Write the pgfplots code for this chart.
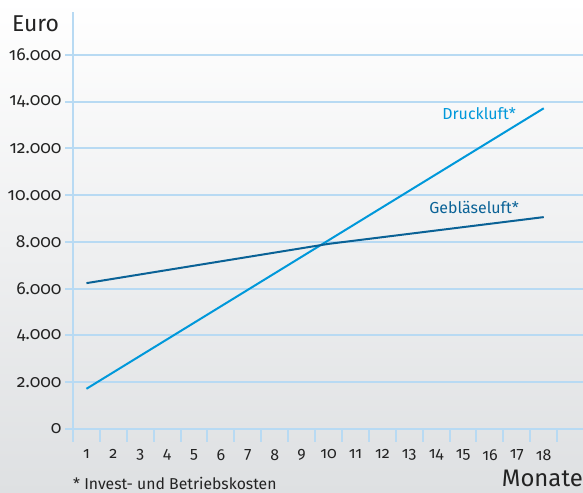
\documentclass[border=0pt]{standalone}
\usepackage{fontspec}
\setmainfont{Fira Sans}[Numbers=OldStyle]
\usepackage{pgfplots}
\pgfplotsset{compat=1.18}
\definecolor{gridBlue}{RGB}{184,218,243}
\definecolor{druckBlue}{RGB}{0,152,218}
\definecolor{geblBlue}{RGB}{10,98,150}
\definecolor{textGray}{RGB}{35,35,35}
\definecolor{bgBottom}{RGB}{222,224,226}

\begin{document}
\begin{tikzpicture}[x=1bp,y=1bp]
\shade[top color=white, bottom color=bgBottom] (0,0) rectangle (583,493);
\path[use as bounding box] (0,0) rectangle (583,493);
\begin{axis}[
    at={(73bp,51bp)}, anchor=south west,
    scale only axis, width=510bp, height=430bp,
    xmin=0.5, xmax=19.46, ymin=-556, ymax=17840,
    axis lines=left, axis line style={-},
    x axis line style={draw=none},
    y axis line style={gridBlue, line width=2bp},
    xtick={1,...,18},
    major tick length=0pt,
    extra x ticks={0.5,1.5,...,18.5},
    extra x tick labels={},
    extra x tick style={major tick length=13bp, tick align=inside,
        tick style={draw=gridBlue, line width=2bp}},
    ytick={0,2000,...,16000},
    extra y ticks={0,2000,...,16000},
    extra y tick labels={},
    extra y tick style={major tick length=8bp, tick align=outside,
        tick style={draw=gridBlue, line width=2bp}},
    scaled y ticks=false,
    ymajorgrids=true,
    major grid style={gridBlue, line width=2bp},
    yticklabel style={font=\fontsize{17.5}{18}\selectfont, text=textGray, xshift=-8bp},
    xticklabel style={font=\fontsize{16}{17}\selectfont, text=textGray, yshift=-4bp},
    /pgf/number format/.cd, 1000 sep={.}, assume math mode=true,
]
\addplot[druckBlue, line width=2bp] coordinates {(1,1720) (18,13720)};
\addplot[geblBlue, line width=2bp] coordinates {(1,6240) (10,7920) (18,9065)};
\node[anchor=base east, text=druckBlue, font=\fontsize{16}{18}\selectfont, inner sep=0pt] at (axis cs:16.97,13260) {Druckluft*};
\node[anchor=base east, text=geblBlue, font=\fontsize{16}{18}\selectfont, inner sep=0pt] at (axis cs:17.08,9240) {Gebläseluft*};
\end{axis}
\node[anchor=base west, text=textGray, font=\fontsize{23}{26}\selectfont, inner sep=0pt] at (12,461) {Euro};
\node[anchor=base east, text=textGray, font=\fontsize{24}{26}\selectfont, inner sep=0pt] at (583,6) {Monate};
\node[anchor=base west, text=textGray, font=\fontsize{15.8}{17}\selectfont, inner sep=0pt] at (73,3) {* Invest- und Betriebskosten};
\end{tikzpicture}
\end{document}
